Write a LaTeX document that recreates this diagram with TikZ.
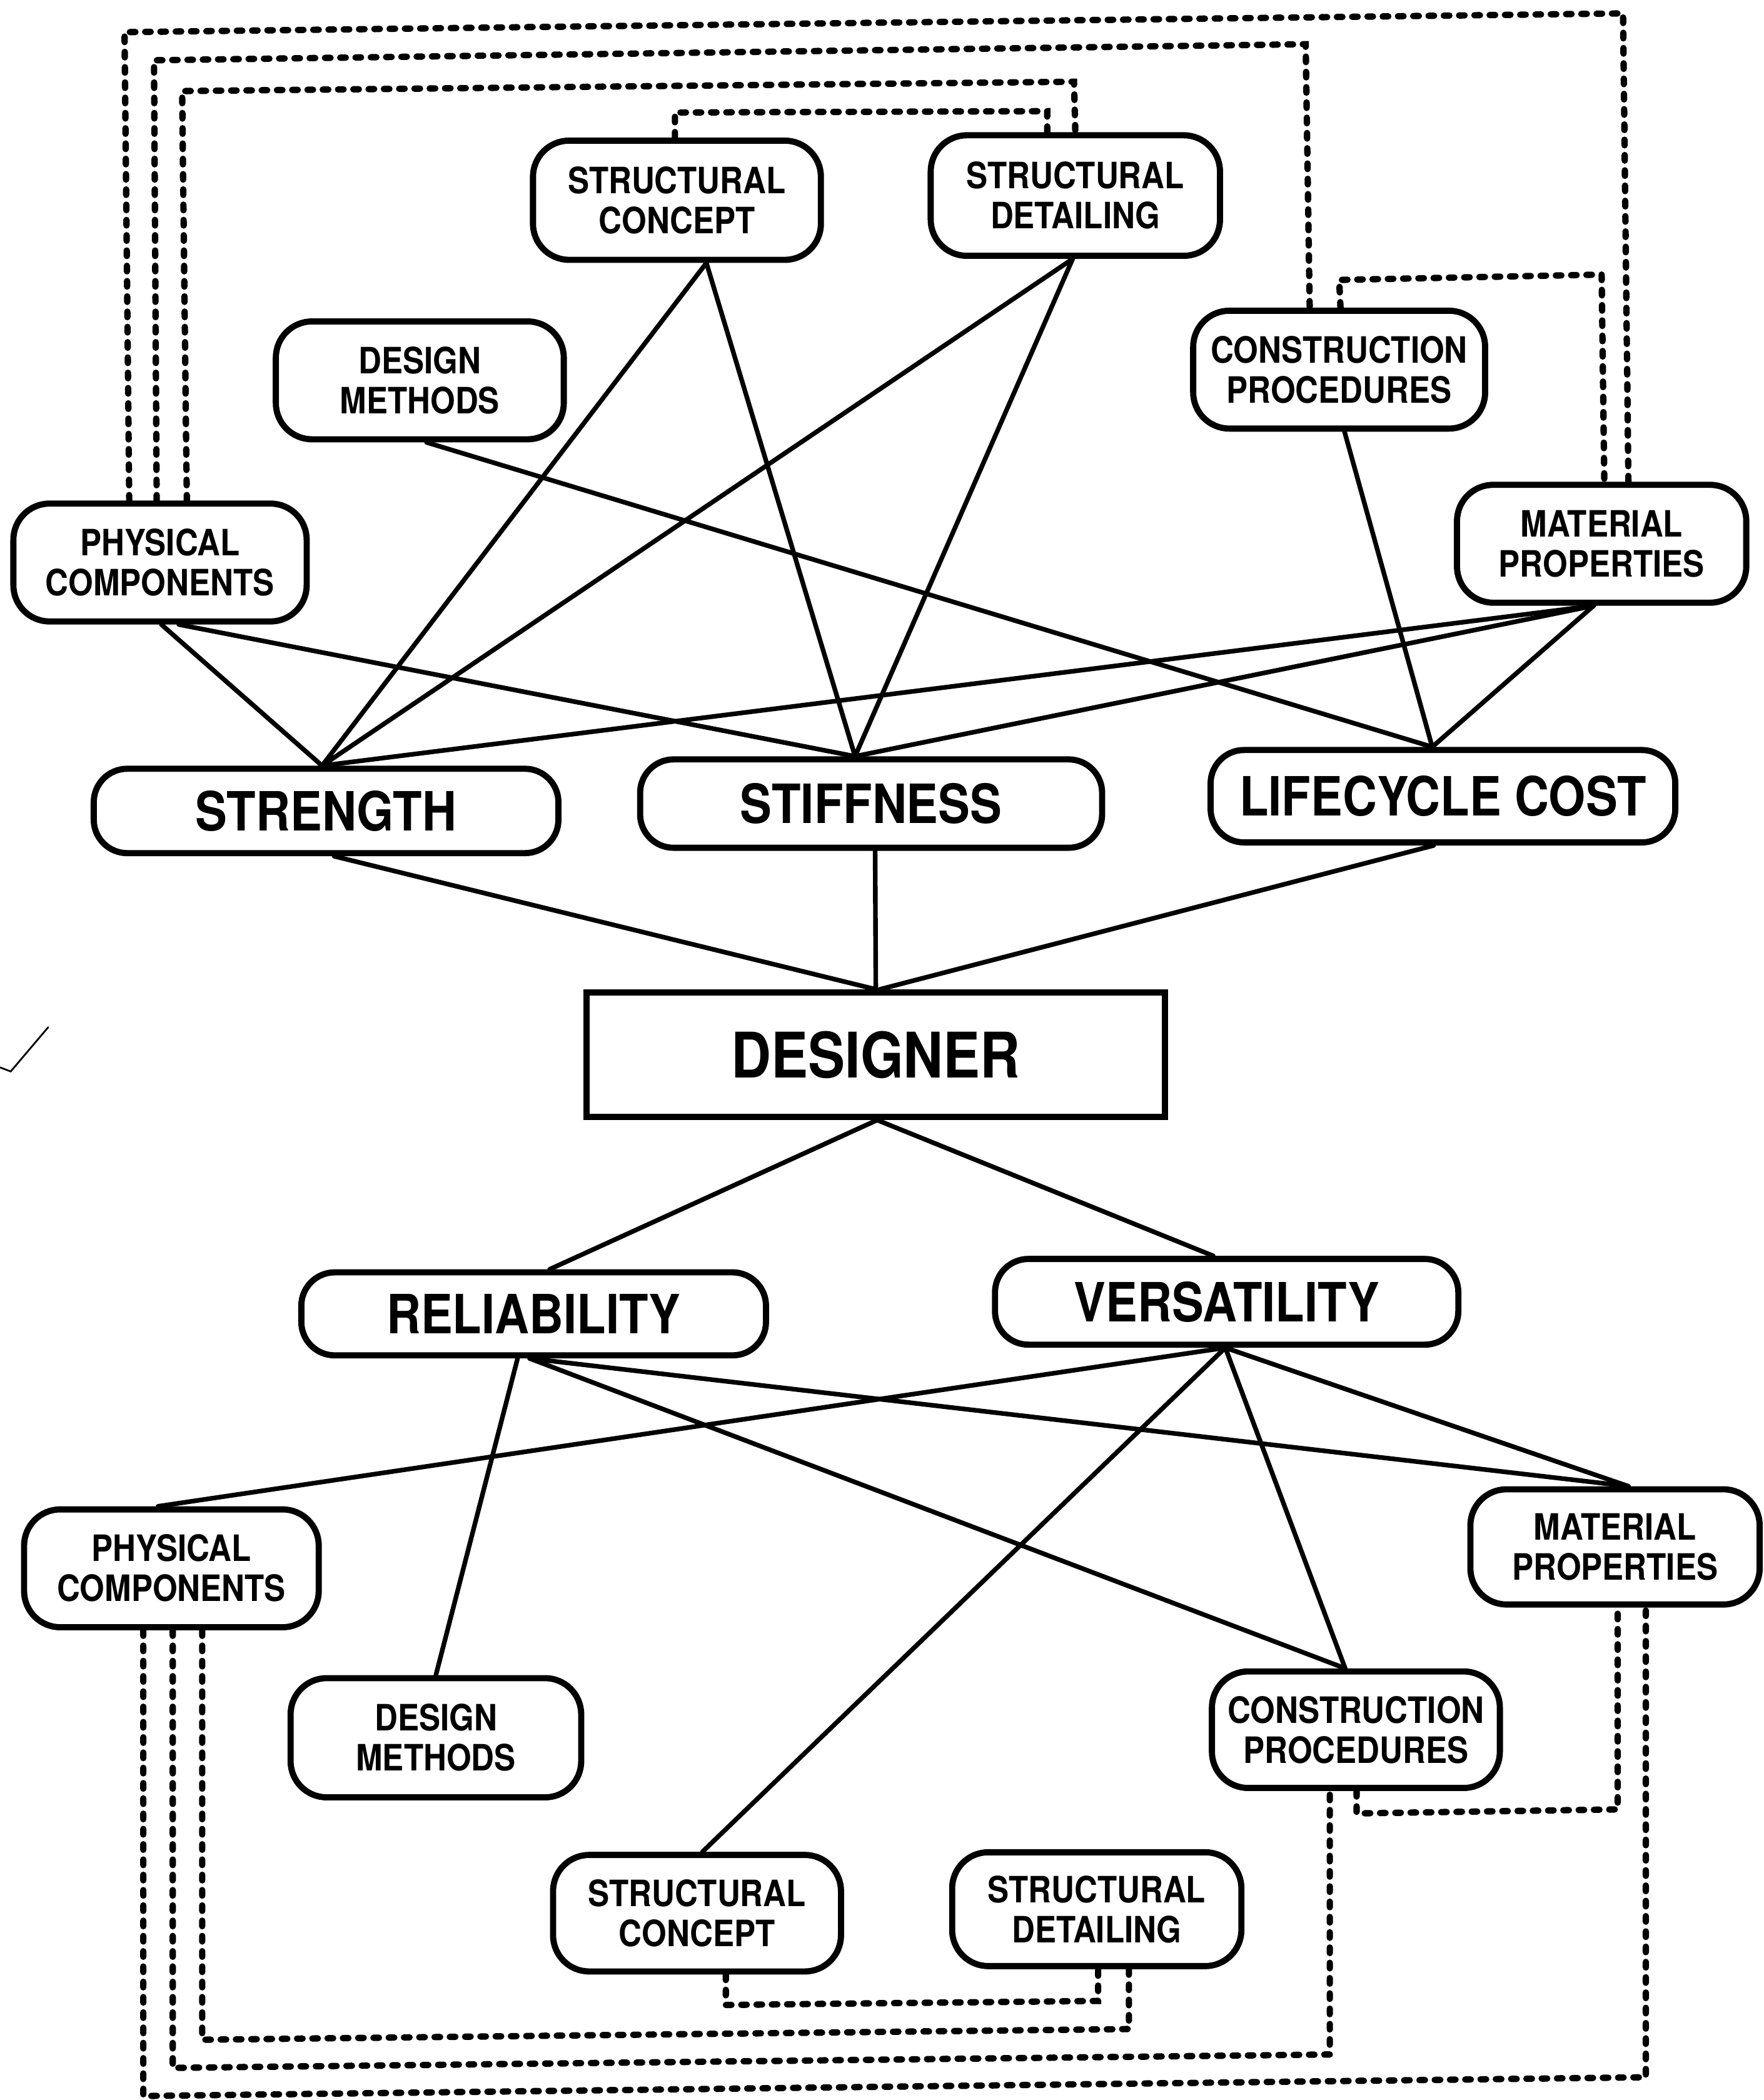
\documentclass[tikz,border=0pt]{standalone}
\usepackage{fontspec}
\setmainfont{TeX Gyre Heros}[FakeStretch=0.88]
\usetikzlibrary{calc}
\newlength\pu
\setlength\pu{0.021412cm}
\begin{document}
\begin{tikzpicture}[x=0.021412cm, y=-0.021412cm,
  box/.style={draw, line width=2.8pt, rounded corners=27\pu, inner sep=0pt, align=center,
    font=\bfseries\fontsize{16.5}{18.2}\selectfont},
  bigbox/.style={draw, line width=2.8pt, rounded corners=25\pu, inner sep=0pt,
    font=\bfseries\fontsize{24.6}{28}\selectfont},
  desbox/.style={draw, line width=2.8pt, inner sep=0pt,
    font=\bfseries\fontsize{28.6}{32}\selectfont},
  conn/.style={line width=2.1pt, line cap=round},
  dashline/.style={line width=2.9pt, line cap=round, dash pattern=on 2.5pt off 4.45pt}]
\useasboundingbox[fill=white] (0,0) rectangle (1317,1568);

% ---------- upper half nodes ----------
\node[box, minimum width=215\pu, minimum height=89\pu] (SCt) at (505.5,149.5) {STRUCTURAL\\CONCEPT};
\node[box, minimum width=216\pu, minimum height=90\pu] (SDt) at (803,146) {STRUCTURAL\\DETAILING};
\node[box, minimum width=215\pu, minimum height=88\pu] (DMt) at (313.5,284) {DESIGN\\METHODS};
\node[box, minimum width=218\pu, minimum height=88\pu] (CPt) at (1000,276) {CONSTRUCTION\\PROCEDURES};
\node[box, minimum width=216\pu, minimum height=88\pu] (MPt) at (1196,406) {MATERIAL\\PROPERTIES};
\node[box, minimum width=219\pu, minimum height=88\pu] (PCt) at (119.5,420) {PHYSICAL\\COMPONENTS};

\node[bigbox, minimum width=347\pu, minimum height=63\pu] (Str) at (243.5,605.5) {STRENGTH};
\node[bigbox, minimum width=345\pu, minimum height=66\pu] (Stf) at (650.5,600) {STIFFNESS};
\node[bigbox, minimum width=347\pu, minimum height=69\pu] (LC) at (1077.5,594.5) {LIFECYCLE COST};

\node[desbox, minimum width=432\pu, minimum height=93\pu] (Des) at (654,787.5) {DESIGNER};

% ---------- lower half nodes ----------
\node[bigbox, minimum width=347\pu, minimum height=62\pu] (Rel) at (398.5,981) {RELIABILITY};
\node[bigbox, minimum width=346\pu, minimum height=64\pu] (Ver) at (916,972) {VERSATILITY};

\node[box, minimum width=220\pu, minimum height=88\pu] (PCb) at (128,1171) {PHYSICAL\\COMPONENTS};
\node[box, minimum width=216\pu, minimum height=86\pu] (MPb) at (1206,1155) {MATERIAL\\PROPERTIES};
\node[box, minimum width=217\pu, minimum height=89\pu] (DMb) at (325.5,1297.5) {DESIGN\\METHODS};
\node[box, minimum width=215\pu, minimum height=87\pu] (CPb) at (1012.5,1291.5) {CONSTRUCTION\\PROCEDURES};
\node[box, minimum width=215\pu, minimum height=87\pu] (SCb) at (520.5,1428.5) {STRUCTURAL\\CONCEPT};
\node[box, minimum width=216\pu, minimum height=85\pu] (SDb) at (819,1425.5) {STRUCTURAL\\DETAILING};

% ---------- solid connectors, upper ----------
\draw[conn] ($(SCt.south)+(22,0)$) -- ($(Str.north)+(-3,0)$);
\draw[conn] ($(SCt.south)+(22,0)$) -- ($(Stf.north)+(-12,0)$);
\draw[conn] ($(SDt.south)+(-2,0)$) -- ($(Str.north)+(-3,0)$);
\draw[conn] ($(SDt.south)+(-2,0)$) -- ($(Stf.north)+(-12,0)$);
\draw[conn] ($(DMt.south)+(5,0)$) -- ($(LC.north)+(-8,0)$);
\draw[conn] ($(CPt.south)+(4,0)$) -- ($(LC.north)+(-8,0)$);
\draw[conn] ($(PCt.south)+(1,0)$) -- ($(Str.north)+(-3,0)$);
\draw[conn] ($(PCt.south)+(14,0)$) -- ($(Stf.north)+(-12,0)$);
\draw[conn] ($(MPt.south)+(-6,0)$) -- ($(Str.north)+(-3,0)$);
\draw[conn] ($(MPt.south)+(-6,0)$) -- ($(Stf.north)+(-12,0)$);
\draw[conn] ($(MPt.south)+(-6,0)$) -- ($(LC.north)+(-8,0)$);
\draw[conn] ($(Str.south)+(6,0)$) -- (Des.north);
\draw[conn] ($(Stf.south)+(3,0)$) -- (Des.north);
\draw[conn] ($(LC.south)+(-7,0)$) -- ($(Des.north)+(3,0)$);

% ---------- solid connectors, lower ----------
\draw[conn] ($(Des.south)+(1,0)$) -- ($(Rel.north)+(12,0)$);
\draw[conn] ($(Des.south)+(1,0)$) -- ($(Ver.north)+(-10,0)$);
\draw[conn] ($(Rel.south)+(-12,0)$) -- (DMb.north);
\draw[conn] ($(Rel.south)+(-3,0)$) -- ($(CPb.north)+(-8,0)$);
\draw[conn] ($(Rel.south)+(-3,0)$) -- ($(MPb.north)+(10,0)$);
\draw[conn] ($(Ver.south)+(-1,0)$) -- ($(PCb.north)+(-10,0)$);
\draw[conn] ($(Ver.south)+(-1,0)$) -- ($(SCb.north)+(4,0)$);
\draw[conn] ($(Ver.south)+(-1,0)$) -- ($(CPb.north)+(-8,0)$);
\draw[conn] ($(Ver.south)+(-1,0)$) -- ($(MPb.north)+(10,0)$);

% ---------- dashed links, upper ----------
\draw[dashline] ($(PCt.north)+(-23,0)$) -- (93,24) -- (1212,10) -- ($(MPt.north)+(20,0)$);
\draw[dashline] ($(PCt.north)+(-2.5,0)$) -- (115,45) -- (975,33) -- ($(CPt.north)+(-22,0)$);
\draw[dashline] ($(PCt.north)+(20,0)$) -- (136,68) -- (802,61) -- (SDt.north);
\draw[dashline] ($(SCt.north)+(-1.5,0)$) -- (504,84) -- (782,83) -- ($(SDt.north)+(-21,0)$);
\draw[dashline] ($(CPt.north)+(1,0)$) -- (1000,209) -- (1196,205) -- ($(MPt.north)+(2,0)$);

% ---------- dashed links, lower ----------
\draw[dashline] ($(SCb.south)+(21.5,0)$) -- (542,1497) -- (820,1494) -- ($(SDb.south)+(1,0)$);
\draw[dashline] ($(PCb.south)+(23,0)$) -- (151,1523) -- (843,1515) -- ($(SDb.south)+(24,0)$);
\draw[dashline] ($(PCb.south)+(1,0)$) -- (129,1544) -- (993,1534) -- ($(CPb.south)+(-19.5,0)$);
\draw[dashline] ($(PCb.south)+(-21,0)$) -- (107,1565) -- (1229,1551) -- ($(MPb.south)+(23,0)$);
\draw[dashline] ($(CPb.south)+(0.5,0)$) -- (1013,1354) -- (1208,1351) -- ($(MPb.south)+(2,0)$);

% stray pen mark at the left edge
\draw[line width=0.8pt, line cap=round] (36,767) -- (8,800) -- (0,797);
\end{tikzpicture}
\end{document}
